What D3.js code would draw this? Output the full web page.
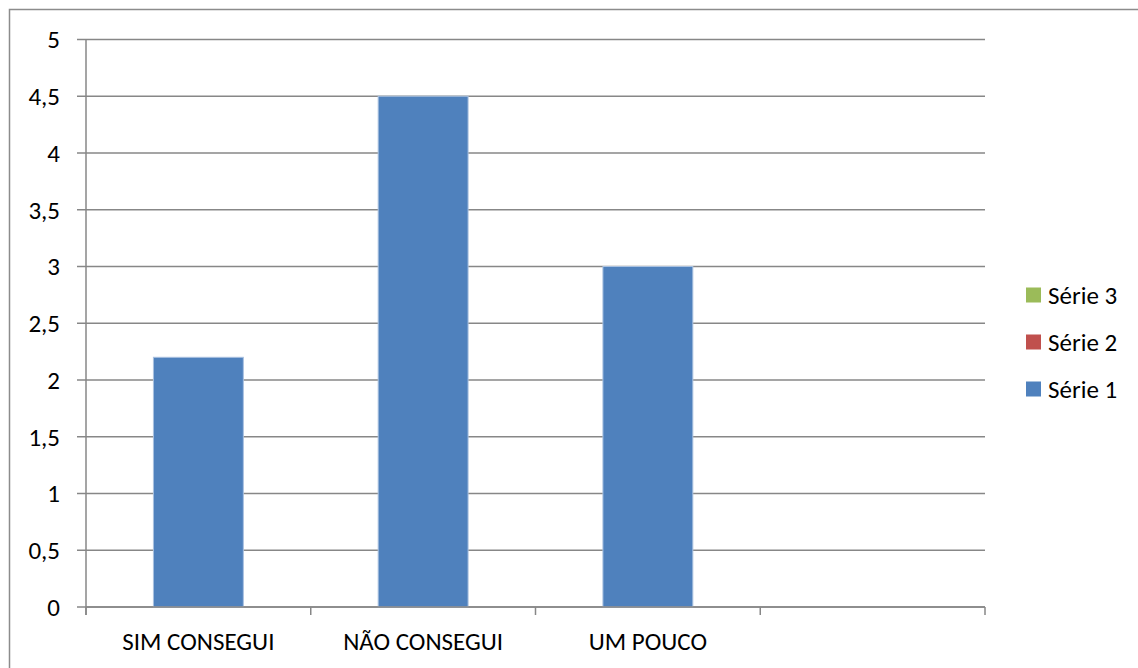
<!DOCTYPE html>
<html>
<head>
<meta charset="utf-8">
<script src="https://cdn.jsdelivr.net/npm/d3@7"></script>
<style>
	body { margin: 0; background: #fff; }
	svg text { font-family: Carlito, Calibri, Lato, sans-serif; fill: #000; }
</style>
</head>
<body>
<svg id="chart" width="1138" height="668"></svg>
<script>
// data
var categories = ["SIM CONSEGUI", "NÃO CONSEGUI", "UM POUCO", ""];
var serie1 = [2.2, 4.5, 3, null];
var seriesNames = ["Série 3", "Série 2", "Série 1"];
var seriesColors = ["#9BBB59", "#C0504D", "#4F81BD"];
var yTicks = [0, 0.5, 1, 1.5, 2, 2.5, 3, 3.5, 4, 4.5, 5];

var svg = d3.select("#chart"),
	plotLeft = 86, plotRight = 985, plotTop = 39.5, plotBottom = 607,
	gridColor = "#878787",
	fontSize = "25px";

// outer frame (runs off the right/bottom edge like the original)
svg.append("rect")
	.attr("x", 9.5).attr("y", 9.5)
	.attr("width", 1200).attr("height", 700)
	.attr("fill", "none").attr("stroke", "#8c8c8c").attr("stroke-width", 1.5);

var keys = categories.map(function (c, i) { return i; });
var x = d3.scaleBand().domain(keys).range([plotLeft, plotRight]).paddingInner(0.6).paddingOuter(0.3);
var y = d3.scaleLinear().domain([0, 5]).range([plotBottom, plotTop]);
var fmt = function (v) { return String(v).replace(".", ","); };

// gridlines
svg.append("g").selectAll("line").data(yTicks).join("line")
	.attr("x1", plotLeft - 9).attr("x2", plotRight)
	.attr("y1", function (d) { return y(d); }).attr("y2", function (d) { return y(d); })
	.attr("stroke", gridColor).attr("stroke-width", 1.5);

// y labels
svg.append("g").selectAll("text").data(yTicks).join("text")
	.attr("x", 60).attr("y", function (d) { return y(d); })
	.attr("dy", "0.35em").attr("text-anchor", "end")
	.style("font-size", fontSize)
	.text(fmt);

// bars
svg.append("g").selectAll("rect").data(serie1.map(function (v, i) { return { i: i, v: v }; }).filter(function (d) { return d.v != null; }))
	.join("rect")
	.attr("x", function (d) { return x(d.i); })
	.attr("y", function (d) { return y(d.v); })
	.attr("width", x.bandwidth())
	.attr("height", function (d) { return y(0) - y(d.v); })
	.attr("fill", seriesColors[2])
	.attr("stroke", "#a9c1e0").attr("stroke-width", 1);

// axes lines
svg.append("line").attr("x1", plotLeft).attr("x2", plotLeft).attr("y1", plotTop).attr("y2", plotBottom + 8)
	.attr("stroke", gridColor).attr("stroke-width", 1.5);
svg.append("line").attr("x1", plotLeft).attr("x2", plotRight).attr("y1", plotBottom).attr("y2", plotBottom)
	.attr("stroke", gridColor).attr("stroke-width", 1.5);

// x category ticks at band boundaries
var step = x.step();
var bounds = keys.map(function (k) { return x(k) - x.paddingOuter() * step; }).concat([plotRight]);
svg.append("g").selectAll("line").data(bounds).join("line")
	.attr("x1", function (d) { return d; }).attr("x2", function (d) { return d; })
	.attr("y1", plotBottom).attr("y2", plotBottom + 8)
	.attr("stroke", gridColor).attr("stroke-width", 1.5);

// x labels
svg.append("g").selectAll("text").data(keys).join("text")
	.attr("x", function (k) { return x(k) + x.bandwidth() / 2; })
	.attr("y", 650)
	.attr("text-anchor", "middle")
	.style("font-size", fontSize)
	.text(function (k) { return categories[k]; });

// legend
var legend = svg.append("g").selectAll("g").data(seriesNames).join("g")
	.attr("transform", function (d, i) { return "translate(1026," + (295 + i * 47) + ")"; });
legend.append("rect").attr("x", 0).attr("y", -7.5).attr("width", 15).attr("height", 15)
	.attr("fill", function (d, i) { return seriesColors[i]; });
legend.append("text").attr("x", 22).attr("dy", "0.35em")
	.style("font-size", fontSize)
	.text(function (d) { return d; });
</script>
</body>
</html>
